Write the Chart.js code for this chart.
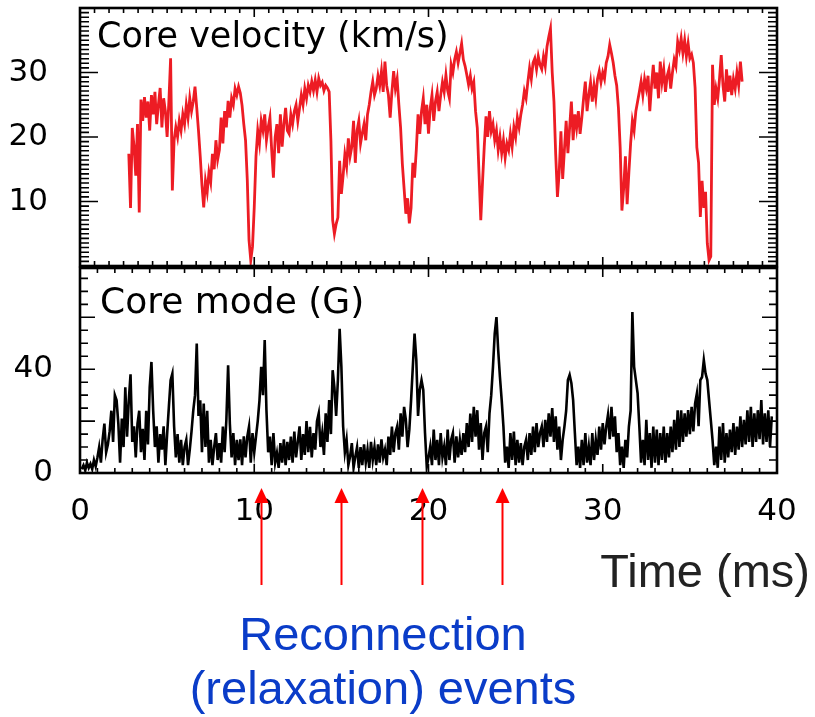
<!DOCTYPE html>
<html>
<head>
<meta charset="utf-8">
<script src="https://cdn.jsdelivr.net/npm/chart.js@4.4.1/dist/chart.umd.min.js"></script>
<style>
  html, body { margin: 0; padding: 0; background: #fff; }
  #wrap { position: relative; width: 815px; height: 717px; overflow: hidden; }
  canvas { position: absolute; left: 0; }
  #velCanvas { top: 0; }
  #modeCanvas { top: 262px; }
</style>
</head>
<body>
<div id="wrap">
  <canvas id="velCanvas" width="815" height="272"></canvas>
  <canvas id="modeCanvas" width="815" height="455"></canvas>
</div>
<script>
// time axis (ms)
const timeTicks = [0, 10, 20, 30, 40];
const velTicks = [10, 20, 30];
const modeTicks = [0, 40];

// core velocity (km/s), sampled every 0.1 ms from 2.8 ms
const velStart = 2.8, velStep = 0.1;
const velocity = [
  17.4, 9.0,
  21.4, 18.6, 14.0, 22.0, 8.3, 25.8, 22.5, 26.2, 23.0, 25.5,
  21.0, 26.5, 23.5, 27.0, 22.0, 25.0, 27.6, 21.5, 26.0, 24.0,
  20.0, 25.5, 32.2, 11.7, 19.5, 21.5, 20.0, 22.5, 21.0, 23.5,
  22.0, 25.0, 23.0, 26.0, 24.0, 25.5, 27.8, 24.5, 21.0, 17.0,
  12.5, 9.1, 13.2, 11.5, 14.5, 13.0, 17.4, 15.0, 19.5, 16.5,
  18.0, 23.0, 19.0, 24.0, 21.5, 25.6, 23.0, 26.0, 25.0, 27.5,
  26.5, 27.8, 26.8, 24.9, 22.0, 19.5, 13.4, 4.0, 0.9, 3.0,
  9.1, 17.0, 21.0, 19.0, 22.5, 21.0, 23.5, 19.5, 21.5, 23.0,
  18.0, 13.7, 20.0, 22.0, 17.5, 23.5, 18.5, 22.0, 24.5, 21.0,
  20.5, 23.5, 22.0, 24.0, 25.0, 22.5, 24.5, 26.5, 25.0, 27.5,
  26.0, 28.0, 27.0, 28.6, 27.2, 28.8, 27.0, 29.1, 28.0, 28.5,
  27.2, 28.0, 27.6, 27.0, 19.4, 7.1, 5.0, 6.5, 7.5, 16.3,
  11.2, 14.0, 17.3, 15.5, 19.8, 17.0, 18.5, 22.5, 16.0, 21.0,
  22.5, 19.0, 20.6, 22.0, 19.5, 23.5, 25.0, 27.0, 28.6, 26.5,
  27.5, 29.5, 28.0, 30.2, 27.0, 31.7, 28.0, 26.5, 23.0, 27.0,
  30.2, 27.5, 29.0, 25.0, 21.4, 15.8, 12.0, 8.1, 10.5, 6.6,
  9.0, 16.0, 13.7, 18.0, 23.5, 20.5, 24.0, 26.0, 22.0, 25.0,
  20.5, 24.5, 26.5, 22.5, 25.5, 27.0, 24.0, 26.5, 28.5, 27.0,
  29.6, 27.2, 26.0, 31.2, 30.0, 32.0, 33.2, 31.5, 33.0, 34.5,
  32.0, 31.0, 29.6, 28.1, 29.5, 27.5, 28.5, 24.0, 21.4, 14.3,
  7.1, 13.0, 18.5, 23.2, 20.0, 24.0, 20.9, 22.0, 19.5, 21.0,
  18.0, 20.0, 17.5, 19.5, 16.8, 19.0, 18.0, 20.5, 18.5, 21.5,
  20.0, 23.0, 21.5, 23.5, 25.0, 27.1, 26.0, 28.5, 30.7, 29.0,
  31.5, 32.2, 30.5, 32.5, 31.2, 30.5, 32.5, 31.0, 34.0, 35.5,
  36.8, 30.0, 25.5, 17.3, 10.7, 14.5, 20.9, 13.5, 18.0, 22.5,
  17.5, 21.5, 25.5, 19.5, 23.5, 21.4, 24.0, 20.5, 23.0, 26.0,
  28.6, 24.0, 26.5, 28.5, 25.5, 28.0, 26.0, 29.0, 30.2, 28.5,
  30.0, 29.0, 31.5, 32.5, 34.3, 33.0, 31.5, 29.5, 28.0, 24.5,
  18.4, 8.6, 12.0, 17.0, 9.6, 14.5, 19.0, 22.5, 21.0, 24.0,
  25.5, 27.0, 28.6, 26.5, 29.0, 27.5, 29.5, 24.0, 28.0, 31.2,
  27.5, 30.0, 26.0, 31.7, 28.5, 30.5, 27.0, 29.5, 30.5, 27.5,
  30.0, 32.0, 31.0, 34.8, 33.5, 35.3, 33.0, 35.0, 32.5, 34.5,
  32.2, 32.8, 31.5, 27.6, 18.4, 16.0, 7.6, 13.2, 9.0, 11.5,
  3.5, 0.9, 1.5, 31.2, 25.0, 27.5, 26.0, 29.0, 32.7, 28.0,
  25.5, 30.5, 27.0, 29.5, 26.5, 29.0, 27.5, 30.0, 28.0, 31.7,
  28.6
];

// core mode (G), sampled every 0.1 ms from 0.1 ms
const modeStart = 0.1, modeStep = 0.1;
const coreMode = [
  1.5, 3, 1, 4, 2, 3.5, 1.5, 5, 2.5, 6,
  10, 4, 13, 19, 8, 11, 16, 24, 12, 30,
  28, 19, 4, 21, 10, 33, 14, 28, 38, 12,
  18, 6, 19, 24, 8, 17, 5, 24, 11, 33,
  42.8, 24, 10, 18, 4, 15, 9, 18, 3, 15,
  25.5, 35.8, 38.3, 18, 6, 15, 4, 12.8, 3, 10,
  12.8, 3, 9, 16, 24, 30, 49.9, 22, 28, 8,
  26.8, 10, 24, 4, 12.8, 3, 10, 15.4, 5, 11.5,
  4, 17.9, 8, 20.5, 41.5, 19, 6, 15.4, 3, 12.8,
  5, 13, 3, 14.1, 6, 14, 17.9, 4, 15.4, 8,
  14, 20, 28, 40.9, 30, 51.2, 24.2, 8, 14, 3,
  15.4, 4, 7.7, 2, 11.5, 4, 13, 3, 12, 5,
  14, 4, 16, 6, 12, 18, 5, 15, 7, 20,
  8, 17.8, 6, 15.4, 9, 20, 23, 10, 15.4, 7,
  23, 12, 28.1, 15, 39.6, 33, 22, 35.8, 55.6, 41,
  18, 8, 12.8, 3, 6.3, 11.5, 2, 6.3, 10, 2,
  10, 3, 11, 4, 9, 2, 12, 5, 10, 3,
  11, 4, 13, 6, 9, 3, 14, 7, 17.9, 8,
  15.4, 17.9, 9, 23, 14, 25.5, 20.5, 10, 16.7, 28,
  40.9, 53.7, 43.6, 22, 32, 35.8, 32, 15.4, 2.4, 6,
  10.2, 3, 16.7, 5, 12.8, 3, 15.4, 6, 10.2, 3,
  16.7, 5, 12.8, 15.4, 4, 14.1, 6, 12.8, 7, 15.4,
  8, 19.2, 10, 22.9, 12, 25.5, 14, 24.2, 9, 19.2,
  5, 15.4, 17.9, 8, 23, 30, 40.9, 53.7, 60.1, 47.3,
  37, 28.1, 17.9, 4, 10.2, 2, 15.4, 5, 16, 3,
  12.8, 4, 11.5, 3, 10.2, 12.8, 5, 15.4, 7, 17.9,
  8, 19.2, 10, 15.4, 17.9, 10, 20.5, 12, 23, 14,
  25, 12, 21.8, 9, 17.9, 5, 12.8, 17.9, 24, 35.8,
  37.8, 34.6, 28.1, 15.4, 3, 10.2, 2, 12.8, 3, 15.4,
  4, 10.2, 3, 15.4, 5, 12.8, 7, 17.9, 9, 19.2,
  11, 17.9, 22.4, 13, 25.5, 14, 21.8, 8, 15.4, 3,
  10.2, 2, 12.8, 6, 17.9, 24, 62, 40.9, 35.8, 30.7,
  17.9, 4, 12.8, 3, 20.5, 5, 15.4, 2, 17.9, 4,
  16.7, 3, 15.4, 5, 17.9, 4, 15.4, 6, 17.9, 8,
  20.5, 9, 24.2, 10, 24.2, 12, 23, 14, 24.2, 15,
  25.5, 16, 26.8, 30.6, 18, 35.8, 37, 43.5, 38.3, 35.8,
  28.1, 20.5, 12.8, 3, 10.2, 2, 17.9, 5, 19.2, 4,
  15.4, 6, 16.7, 8, 19.2, 7, 17.9, 9, 21.8, 10,
  20.5, 11, 24.2, 12, 25.5, 10, 23, 12, 24.2, 13,
  28.1, 11, 23, 12, 24.2, 10, 21.8
];

// reconnection events (ms)
const eventTimes = [10.4, 15.0, 19.6, 24.2];

function toPoints(t0, dt, values) {
    return values.map((v, i) => ({ x: +(t0 + i * dt).toFixed(2), y: v }));
}

// y axis: fixed width, no extra vertical padding from the tick labels
function fixYAxis(s) {
    s.width = 80;
    s.paddingTop = 0;
    s.paddingBottom = 0;
}

// box with inward ticks on all four sides
function drawFrame(chart, f) {
    const ctx = chart.ctx, a = chart.chartArea;
    const xs = chart.scales.x, ys = chart.scales.y;
    ctx.save();
    ctx.strokeStyle = '#000';
    ctx.lineWidth = 1.6;
    ctx.beginPath();
    const nx = Math.round((xs.max - xs.min) / f.xMinor);
    for (let i = 0; i <= nx; i++) {
        const v = xs.min + i * f.xMinor;
        const px = xs.getPixelForValue(v);
        const len = (i % f.xPer === 0) ? f.xMajorLen : f.xMinorLen;
        ctx.moveTo(px, a.top); ctx.lineTo(px, a.top + len);
        ctx.moveTo(px, a.bottom); ctx.lineTo(px, a.bottom - len);
    }
    const ny = Math.floor((ys.max - ys.min) / f.yMinor + 1e-6);
    for (let i = 0; i <= ny; i++) {
        const v = ys.min + i * f.yMinor;
        const py = ys.getPixelForValue(v);
        const len = (i % f.yPer === 0) ? f.yMajorLen : f.yMinorLen;
        ctx.moveTo(a.left, py); ctx.lineTo(a.left + len, py);
        ctx.moveTo(a.right, py); ctx.lineTo(a.right - len, py);
    }
    ctx.stroke();
    ctx.lineWidth = 2.6;
    ctx.strokeRect(a.left, a.top, a.right - a.left, a.bottom - a.top);
    ctx.restore();
}

const framePlugin = {
    id: 'frame',
    afterDatasetsDraw(chart, args, opts) {
        drawFrame(chart, opts);
        const ctx = chart.ctx, a = chart.chartArea;
        ctx.save();
        ctx.fillStyle = '#000';
        ctx.font = opts.titleSize + 'px "DejaVu Sans"';
        ctx.textBaseline = 'alphabetic';
        ctx.textAlign = 'left';
        ctx.fillText(opts.title, a.left + opts.titleDx, a.top + opts.titleDy);
        ctx.restore();
    }
};

const eventsPlugin = {
    id: 'events',
    afterDraw(chart) {
        const ctx = chart.ctx, a = chart.chartArea, xs = chart.scales.x;
        ctx.save();
        ctx.strokeStyle = '#ff0000';
        ctx.fillStyle = '#ff0000';
        ctx.lineWidth = 2;
        eventTimes.forEach(t => {
            const px = Math.round(xs.getPixelForValue(t)) + 0.5;
            ctx.beginPath();
            ctx.moveTo(px, a.bottom + 112);
            ctx.lineTo(px, a.bottom + 28);
            ctx.stroke();
            ctx.beginPath();
            ctx.moveTo(px, a.bottom + 15);
            ctx.lineTo(px - 7, a.bottom + 30);
            ctx.lineTo(px + 7, a.bottom + 30);
            ctx.closePath();
            ctx.fill();
        });

        ctx.fillStyle = '#222';
        ctx.font = '47px "Liberation Sans"';
        ctx.textAlign = 'right';
        ctx.fillText('Time (ms)', 810, a.bottom + 114);

        ctx.fillStyle = '#0a3cc8';
        ctx.textAlign = 'center';
        ctx.font = '47px "Liberation Sans"';
        ctx.fillText('Reconnection', 383, a.bottom + 177);
        ctx.fillText('(relaxation) events', 383, a.bottom + 231);
        ctx.restore();
    }
};

const tickFont = { family: 'DejaVu Sans', size: 31 };

function init() {
    new Chart(document.getElementById('velCanvas'), {
        type: 'line',
        data: {
            datasets: [{
                data: toPoints(velStart, velStep, velocity),
                borderColor: '#ed1c24',
                borderWidth: 2.8,
                pointRadius: 0,
                tension: 0
            }]
        },
        options: {
            responsive: false,
            animation: false,
            layout: { padding: { left: 0, top: 8, right: 38, bottom: 6 } },
            plugins: {
                legend: { display: false },
                tooltip: { enabled: false },
                frame: {
                    xMinor: 10 / 12, xPer: 12, xMinorLen: 5, xMajorLen: 9,
                    yMinor: 10 / 14, yPer: 14, yMinorLen: 9, yMajorLen: 18,
                    title: 'Core velocity (km/s)', titleSize: 35, titleDx: 17, titleDy: 39
                }
            },
            scales: {
                x: { type: 'linear', min: 0, max: 40, display: false },
                y: {
                    min: 0, max: 40,
                    afterFit: fixYAxis,
                    grid: { display: false },
                    border: { display: false },
                    ticks: {
                        stepSize: 10,
                        padding: 24,
                        color: '#000',
                        font: tickFont,
                        callback: v => velTicks.includes(v) ? String(v) : ''
                    }
                }
            }
        },
        plugins: [framePlugin]
    });

    new Chart(document.getElementById('modeCanvas'), {
        type: 'line',
        data: {
            datasets: [{
                data: toPoints(modeStart, modeStep, coreMode),
                borderColor: '#000',
                borderWidth: 2.6,
                pointRadius: 0,
                tension: 0
            }]
        },
        options: {
            responsive: false,
            animation: false,
            layout: { padding: { left: 0, top: 6, right: 38, bottom: 184 } },
            plugins: {
                legend: { display: false },
                tooltip: { enabled: false },
                frame: {
                    xMinor: 1, xPer: 10, xMinorLen: 5, xMajorLen: 9,
                    yMinor: 5, yPer: 4, yMinorLen: 8, yMajorLen: 15,
                    title: 'Core mode (G)', titleSize: 36, titleDx: 20, titleDy: 45
                }
            },
            scales: {
                x: {
                    type: 'linear', min: 0, max: 40,
                    afterFit: s => { s.height = 60; },
                    grid: { display: false },
                    border: { display: false },
                    ticks: {
                        stepSize: 10,
                        padding: 12,
                        maxRotation: 0,
                        autoSkip: false,
                        color: '#000',
                        font: tickFont,
                        callback: v => timeTicks.includes(v) ? String(v) : ''
                    }
                },
                y: {
                    min: 0, max: 79,
                    afterFit: fixYAxis,
                    grid: { display: false },
                    border: { display: false },
                    ticks: {
                        stepSize: 20,
                        padding: 19,
                        color: '#000',
                        font: tickFont,
                        callback: v => modeTicks.includes(v) ? String(v) : ''
                    }
                }
            }
        },
        plugins: [framePlugin, eventsPlugin]
    });
}

init();
</script>
</body>
</html>
